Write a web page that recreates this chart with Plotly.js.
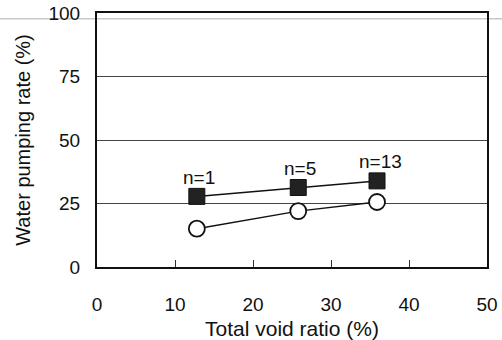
<!DOCTYPE html>
<html>
<head>
<meta charset="utf-8">
<script src="https://cdn.plot.ly/plotly-3.0.1.min.js"></script>
<style>
  html, body { margin: 0; padding: 0; background: #fff; }
  #chart { width: 502px; height: 340px; }
</style>
</head>
<body>
<div id="chart"></div>
<script>
// Total void ratio (%) of each specimen group
const voidRatio = [12.8, 25.8, 35.9];
// Water pumping rate (%) — filled squares
const pumpingFilled = [27.8, 31.3, 33.9];
// Water pumping rate (%) — open circles
const pumpingOpen = [15.1, 22.0, 25.6];
// Sample counts shown above the filled squares
const sampleLabels = ['n=1', 'n=5', 'n=13'];

const xTicks = [0, 10, 20, 30, 40, 50];
const yTicks = [0, 25, 50, 75, 100];

const fontFamily = '"Liberation Sans", Arial, sans-serif';

const traces = [
  {
    x: voidRatio,
    y: pumpingFilled,
    mode: 'lines+markers',
    line: { color: '#111', width: 1.5 },
    marker: { symbol: 'square', size: 16, color: '#222', line: { color: '#111', width: 1 } },
    cliponaxis: false,
    hoverinfo: 'x+y'
  },
  {
    x: voidRatio,
    y: pumpingOpen,
    mode: 'lines+markers',
    line: { color: '#111', width: 1.5 },
    marker: { symbol: 'circle', size: 16, color: '#fff', line: { color: '#111', width: 1.8 } },
    cliponaxis: false,
    hoverinfo: 'x+y'
  }
];

// sample-count labels sit just above each filled square
const countNotes = sampleLabels.map((label, i) => ({
  x: voidRatio[i],
  y: pumpingFilled[i],
  xref: 'x', yref: 'y',
  text: label,
  showarrow: false,
  yshift: 19,
  xshift: i === sampleLabels.length - 1 ? 3 : 2,
  font: { family: fontFamily, size: 19, color: '#111' }
}));

const layout = {
  width: 502,
  height: 340,
  margin: { l: 97, r: 15, t: 13, b: 73 },
  paper_bgcolor: '#fff',
  plot_bgcolor: '#fff',
  showlegend: false,
  font: { family: fontFamily, color: '#111' },
  xaxis: {
    range: [0, 50],
    tickvals: xTicks,
    ticktext: xTicks.map(String),
    ticks: 'inside',
    ticklen: 7,
    tickwidth: 1,
    tickcolor: '#333',
    ticklabelstandoff: 19,
    showgrid: false,
    zeroline: false,
    showline: true,
    linecolor: '#111',
    linewidth: 2,
    mirror: true,
    tickfont: { family: fontFamily, size: 19, color: '#111' },
    title: { text: 'Total void ratio (%)', font: { family: fontFamily, size: 21, color: '#111' }, standoff: 30 }
  },
  yaxis: {
    range: [0, 100],
    tickvals: yTicks,
    ticktext: yTicks.map(String),
    ticks: '',
    ticklabelstandoff: 11,
    showgrid: true,
    gridcolor: '#444',
    gridwidth: 1,
    zeroline: false,
    showline: true,
    linecolor: '#111',
    linewidth: 2,
    mirror: true,
    tickfont: { family: fontFamily, size: 19, color: '#111' },
    title: { text: 'Water pumping rate (%)', font: { family: fontFamily, size: 20, color: '#111' }, standoff: 12 }
  },
  annotations: countNotes,
  shapes: [
    // faint horizontal rule running across the sheet just below the top border
    {
      type: 'line', xref: 'paper', yref: 'paper',
      x0: -0.26, x1: 1.04, y0: 0.977, y1: 0.977,
      line: { color: '#c8c8c8', width: 1.5 }, layer: 'below'
    }
  ]
};

Plotly.newPlot('chart', traces, layout, { displayModeBar: false, staticPlot: true });
</script>
</body>
</html>
